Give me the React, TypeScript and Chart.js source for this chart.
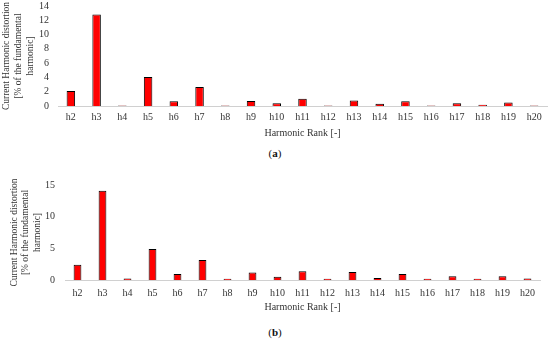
import React, { useEffect, useRef } from "react";
import Chart from "chart.js/auto";

const categories = ["h2","h3","h4","h5","h6","h7","h8","h9","h10","h11","h12","h13","h14","h15","h16","h17","h18","h19","h20"];
const valuesA = [2.1, 12.8, 0.08, 4.05, 0.68, 2.65, 0.08, 0.7, 0.4, 1.0, 0.08, 0.77, 0.3, 0.68, 0.08, 0.4, 0.18, 0.5, 0.08];
const valuesB = [2.4, 14.1, 0.25, 4.9, 0.95, 3.15, 0.2, 1.2, 0.5, 1.4, 0.2, 1.25, 0.3, 0.95, 0.2, 0.6, 0.2, 0.6, 0.25];
const yTitle = ["Current Harmonic distortion", "[% of the fundamental", "harmonic]"];
const xTitle = "Harmonic Rank [-]";

const FONT = "'Liberation Serif', 'Times New Roman', serif";
const TEXT = "#333333";

type Cfg = {
  values: number[];
  max: number;
  step: number;
  yWidth: number;
  padRight: number;
  yTickPad: number;
  xTickPad: number;
  xHeight: number;
  xTitlePadBottom: number;
  yTitlePadTop: number;
  yTitleLH: number;
  barPct: number;
};

function BarChart({ cfg, top, height }: { cfg: Cfg; top: number; height: number }) {
  const ref = useRef<HTMLCanvasElement | null>(null);
  useEffect(() => {
    if (!ref.current) return;
    const chart = new Chart(ref.current, {
      type: "bar",
      data: {
        labels: categories,
        datasets: [
          {
            data: cfg.values,
            backgroundColor: "#ff0000",
            borderColor: "#000000",
            borderWidth: 1,
            categoryPercentage: 1,
            barPercentage: cfg.barPct,
          },
        ],
      },
      options: {
        animation: false,
        responsive: false,
        maintainAspectRatio: false,
        layout: { padding: { left: 0, right: cfg.padRight, top: 6, bottom: 0 } },
        plugins: { legend: { display: false }, tooltip: { enabled: false } },
        scales: {
          x: {
            grid: { display: false, drawTicks: false },
            border: { display: true, color: "#d0d0d0", width: 1 },
            ticks: { color: TEXT, font: { family: FONT, size: 10 }, padding: cfg.xTickPad, maxRotation: 0, autoSkip: false },
            title: {
              display: true,
              text: xTitle,
              color: TEXT,
              font: { family: FONT, size: 10 },
              padding: { top: 0, bottom: cfg.xTitlePadBottom },
            },
            afterFit: (scale: any) => {
              scale.height = cfg.xHeight;
              scale.paddingLeft = 0;
              scale.paddingRight = 0;
            },
          },
          y: {
            min: 0,
            max: cfg.max,
            grid: { display: false, drawTicks: false },
            border: { display: false },
            ticks: { stepSize: cfg.step, autoSkip: false, color: TEXT, font: { family: FONT, size: 10 }, padding: cfg.yTickPad },
            title: {
              display: true,
              text: yTitle,
              color: TEXT,
              font: { family: FONT, size: 9.5, lineHeight: cfg.yTitleLH },
              padding: { top: cfg.yTitlePadTop, bottom: 0 },
            },
            afterFit: (scale: any) => {
              scale.width = cfg.yWidth;
              scale.paddingTop = 0;
              scale.paddingBottom = 0;
            },
          },
        },
      },
    });
    return () => chart.destroy();
  }, [cfg]);
  return (
    <canvas
      ref={ref}
      width={550}
      height={height}
      style={{ position: "absolute", left: 0, top, width: 550, height }}
    />
  );
}

const cfgA: Cfg = { values: valuesA, max: 14, step: 2, yWidth: 58, padRight: 3, yTickPad: 9, xTickPad: 5, xHeight: 39, xTitlePadBottom: 6, yTitlePadTop: 1, yTitleLH: 1.26, barPct: 0.33 };
const cfgB: Cfg = { values: valuesB, max: 15, step: 5, yWidth: 65, padRight: 10, yTickPad: 10, xTickPad: 7, xHeight: 36, xTitlePadBottom: 3, yTitlePadTop: 9, yTitleLH: 1.18, barPct: 0.31 };

const captionStyle: React.CSSProperties = {
  position: "absolute",
  width: 550,
  textAlign: "center",
  fontFamily: FONT,
  fontSize: 11,
  color: "#111",
  lineHeight: "14px",
};

export default function App() {
  return (
    <div style={{ position: "fixed", left: 0, top: 0, width: 550, height: 347, background: "#fff", overflow: "hidden" }}>
      <BarChart cfg={cfgA} top={0} height={145} />
      <div style={{ ...captionStyle, top: 146, left: 0 }}>
        (<b>a</b>)
      </div>
      <BarChart cfg={cfgB} top={179} height={137} />
      <div style={{ ...captionStyle, top: 325, left: 0 }}>
        (<b>b</b>)
      </div>
    </div>
  );
}
